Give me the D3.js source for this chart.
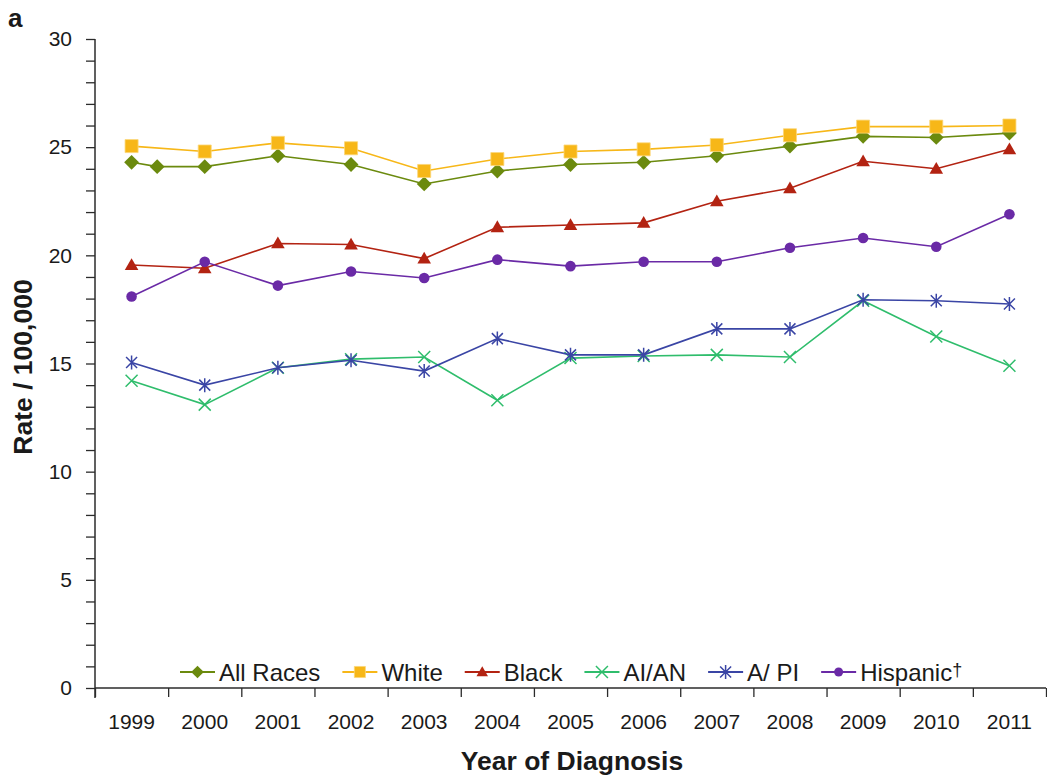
<!DOCTYPE html>
<html>
<head>
<meta charset="utf-8">
<script src="https://cdn.jsdelivr.net/npm/d3@7"></script>
<style>
  html, body { margin: 0; padding: 0; background: #fff; }
  svg { display: block; font-family: "Liberation Sans", Arial, Helvetica, sans-serif; }
</style>
</head>
<body>
<svg id="chart" width="1047" height="775"></svg>
<script>
// ---- Data ----
const years = [1999, 2000, 2001, 2002, 2003, 2004, 2005, 2006, 2007, 2008, 2009, 2010, 2011];
const yTicks = [0, 5, 10, 15, 20, 25, 30];
const seriesNames = ["All Races", "White", "Black", "AI/AN", "A/ PI", "Hispanic"];
const allRaces = [24.3, 24.1, 24.6, 24.2, 23.3, 23.9, 24.2, 24.3, 24.6, 25.05, 25.5, 25.45, 25.65];
// stray extra marker plotted in the original between 1999 and 2000
const allRacesExtraYear = [1999.35];
const allRacesExtraValue = [24.1];
const white = [25.05, 24.8, 25.2, 24.95, 23.9, 24.45, 24.8, 24.9, 25.1, 25.55, 25.95, 25.95, 26.0];
const black = [19.55, 19.4, 20.55, 20.5, 19.85, 21.3, 21.4, 21.5, 22.5, 23.1, 24.35, 24.0, 24.9];
const aian = [14.2, 13.1, 14.8, 15.2, 15.3, 13.3, 15.25, 15.35, 15.4, 15.3, 17.9, 16.25, 14.9];
const apai = [15.05, 14.0, 14.8, 15.15, 14.65, 16.15, 15.4, 15.4, 16.6, 16.6, 17.95, 17.9, 17.75];
const hispanic = [18.1, 19.7, 18.6, 19.25, 18.95, 19.8, 19.5, 19.7, 19.7, 20.35, 20.8, 20.4, 21.9];

// ---- Layout ----
const svg = d3.select("#chart");
const plotLeft = 95, plotRight = 1046, plotTop = 39, plotBottom = 688;
const x = d3.scaleLinear().domain([1998.5, 2011.5]).range([plotLeft, plotRight]);
const y = d3.scaleLinear().domain([0, 30]).range([plotBottom, plotTop]);

const axisColor = "#2b2b2b";

// ---- Styles ----
const colors = {
  "All Races": "#6b8a0e",
  "White": "#f7b718",
  "Black": "#b32312",
  "AI/AN": "#2fbd6c",
  "A/ PI": "#3a45a5",
  "Hispanic": "#6a2aa6"
};

function drawMarker(g, type, color, scale) {
  const k = scale || 1;
  if (type === "All Races") {
    g.append("path").attr("d", d3.symbol(d3.symbolSquare, 110 * k * k)())
      .attr("transform", "rotate(45)").attr("fill", color);
  } else if (type === "White") {
    g.append("path").attr("d", d3.symbol(d3.symbolSquare, 170 * k * k)()).attr("fill", color)
      .attr("stroke", "#fbd779").attr("stroke-width", 0.8);
  } else if (type === "Black") {
    g.append("path").attr("d", d3.symbol(d3.symbolTriangle, 80 * k * k)()).attr("transform", "translate(0,1)").attr("fill", color);
  } else if (type === "Hispanic") {
    g.append("circle").attr("r", 5.3 * k).attr("fill", color);
  } else if (type === "AI/AN") {
    const s = 6;
    g.append("path").attr("d", `M${-s},${-s}L${s},${s}M${-s},${s}L${s},${-s}`)
      .attr("stroke", color).attr("stroke-width", 1.5).attr("fill", "none");
  } else if (type === "A/ PI") {
    const s = 5.5, v = 7;
    g.append("path").attr("d", `M${-s},${-s}L${s},${s}M${-s},${s}L${s},${-s}M0,${-v}L0,${v}`)
      .attr("stroke", color).attr("stroke-width", 1.5).attr("fill", "none");
  }
}

// ---- Axes ----
const yAxis = d3.axisLeft(y).tickValues(d3.range(0, 31, 1)).tickSize(9)
  .tickFormat(d => yTicks.includes(d) ? d : "").tickPadding(14);
const gy = svg.append("g").attr("transform", `translate(${plotLeft},0)`).call(yAxis);
gy.select(".domain").remove();
gy.selectAll(".tick line").attr("stroke", axisColor).attr("stroke-width", 1.3);
gy.selectAll(".tick text").attr("font-size", 21).attr("fill", "#1a1a1a")
  .attr("font-family", '"Liberation Sans", Arial, sans-serif');
svg.append("line").attr("x1", plotLeft).attr("x2", plotLeft).attr("y1", plotTop).attr("y2", plotBottom + 10)
  .attr("stroke", axisColor).attr("stroke-width", 1.5);

const xAxis = d3.axisBottom(x).tickValues(d3.range(1998.5, 2012, 1)).tickSize(9).tickFormat("");
const gx = svg.append("g").attr("transform", `translate(0,${plotBottom})`).call(xAxis);
gx.select(".domain").remove();
gx.selectAll(".tick line").attr("stroke", axisColor).attr("stroke-width", 1.3);
svg.append("line").attr("x1", plotLeft).attr("x2", plotRight).attr("y1", plotBottom).attr("y2", plotBottom)
  .attr("stroke", axisColor).attr("stroke-width", 1.5);
svg.append("g").selectAll("text").data(years).join("text")
  .attr("x", d => x(d)).attr("y", 729)
  .attr("text-anchor", "middle").attr("font-size", 21).attr("fill", "#1a1a1a")
  .text(d => d);

// titles
svg.append("text").attr("x", 572).attr("y", 770).attr("text-anchor", "middle")
  .attr("font-size", 26.5).attr("font-weight", "bold").attr("fill", "#1a1a1a")
  .text("Year of Diagnosis");
svg.append("text").attr("transform", "translate(32,367) rotate(-90)").attr("text-anchor", "middle")
  .attr("font-size", 26.5).attr("font-weight", "bold").attr("fill", "#1a1a1a")
  .text("Rate / 100,000");
svg.append("text").attr("x", 8).attr("y", 27).attr("font-size", 26).attr("font-weight", "bold")
  .attr("fill", "#1a1a1a").text("a");

// ---- Series ----
const seriesValues = [allRaces, white, black, aian, apai, hispanic];
const line = d3.line().x(d => x(d[0])).y(d => y(d[1]));

seriesNames.forEach((name, i) => {
  let pts = years.map((yr, j) => [yr, seriesValues[i][j]]);
  if (name === "All Races") {
    allRacesExtraYear.forEach((yr, k) => pts.push([yr, allRacesExtraValue[k]]));
    pts.sort((a, b) => a[0] - b[0]);
  }
  const g = svg.append("g");
  g.append("path").datum(pts).attr("d", line).attr("fill", "none")
    .attr("stroke", colors[name]).attr("stroke-width", 1.6);
  pts.forEach(p => {
    const mg = g.append("g").attr("transform", `translate(${x(p[0])},${y(p[1])})`);
    drawMarker(mg, name, colors[name], 1);
  });
});

// ---- Legend ----
const legend = svg.append("g");
let lx = 180;
const ly = 672;
seriesNames.forEach((name) => {
  const g = legend.append("g");
  g.append("line").attr("x1", lx).attr("x2", lx + 35).attr("y1", ly).attr("y2", ly)
    .attr("stroke", colors[name]).attr("stroke-width", 1.8);
  const mg = g.append("g").attr("transform", `translate(${lx + 17.5},${ly})`);
  drawMarker(mg, name, colors[name], 0.85);
  const t = g.append("text").attr("x", lx + 39).attr("y", ly + 9)
    .attr("font-size", 24).attr("fill", "#1a1a1a").text(name);
  if (name === "Hispanic") {
    t.append("tspan").attr("font-size", 18).attr("dy", -5).text("†");
  }
  lx += 39 + t.node().getComputedTextLength() + 22;
});
</script>
</body>
</html>
